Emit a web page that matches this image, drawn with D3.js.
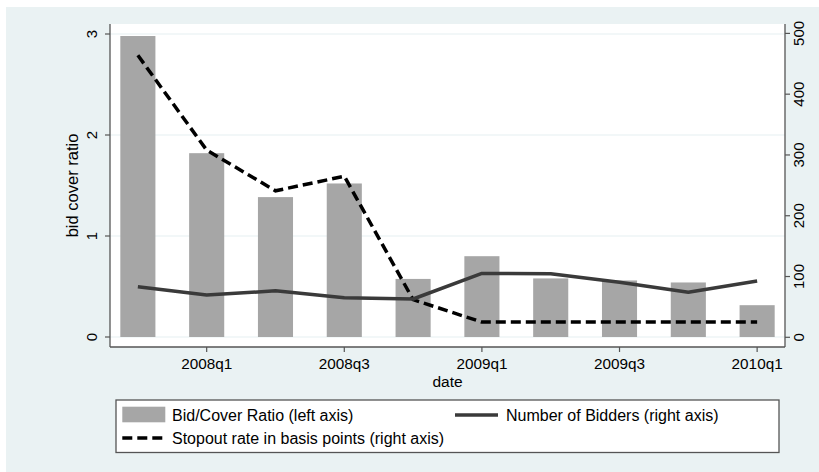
<!DOCTYPE html>
<html>
<head>
<meta charset="utf-8">
<script src="https://cdn.jsdelivr.net/npm/d3@7"></script>
<style>
html,body{margin:0;padding:0;background:#fff;}
svg text{font-family:"Liberation Sans",Arial,Helvetica,sans-serif;fill:#000;}
</style>
</head>
<body>
<svg id="chart" width="819" height="472"></svg>
<script>
const quarters = ["2007q4","2008q1","2008q2","2008q3","2008q4","2009q1","2009q2","2009q3","2009q4","2010q1"];
const bidCover = [2.98, 1.82, 1.385, 1.52, 0.575, 0.80, 0.58, 0.56, 0.54, 0.315];
const bidders = [83, 69.5, 76.5, 65, 63, 105, 104.5, 90.5, 74, 92.5];
const stopout = [464, 308, 241, 265, 62, 25, 25, 25, 25, 25];
const xTickLabels = ["2008q1","2008q3","2009q1","2009q3","2010q1"];
const leftTicks = [0,1,2,3];
const rightTicks = [0,100,200,300,400,500];

const svg = d3.select("#chart");
const W = 819, H = 472;
const plot = {l:110, r:785, t:24, b:347};

svg.append("rect").attr("x",6).attr("y",7).attr("width",W-6).attr("height",H-7).attr("fill","#EAF2F3");
svg.append("rect").attr("x",plot.l).attr("y",plot.t).attr("width",plot.r-plot.l).attr("height",plot.b-plot.t).attr("fill","#fff");

const x = d3.scaleLinear().domain([-0.405, 9.405]).range([plot.l, plot.r]);
const yL = d3.scaleLinear().domain([0,3]).range([337, 34]);
const yR = d3.scaleLinear().domain([0,500]).range([337.3, 33.4]);

// gridlines
svg.append("g").selectAll("line").data(leftTicks).join("line")
  .attr("x1",plot.l).attr("x2",plot.r)
  .attr("y1",d=>yL(d)).attr("y2",d=>yL(d))
  .attr("stroke","#E6EFF1").attr("stroke-width",1.2);

// bars
const bw = x(0.51)-x(0);
svg.append("g").selectAll("rect").data(bidCover).join("rect")
  .attr("x",(d,i)=>x(i)-bw/2).attr("width",bw)
  .attr("y",d=>yL(d)).attr("height",d=>yL(0)-yL(d))
  .attr("fill","#A6A6A6");

// lines
const lineR = d3.line().x((d,i)=>x(i)).y(d=>yR(d));
svg.append("path").datum(stopout).attr("d",lineR)
  .attr("fill","none").attr("stroke","#000").attr("stroke-width",3.5)
  .attr("stroke-dasharray","10,5");
svg.append("path").datum(bidders).attr("d",lineR)
  .attr("fill","none").attr("stroke","#3A3A3A").attr("stroke-width",3.5)
  .attr("stroke-linejoin","round");

// axes
const axisColor = "#555";
svg.append("line").attr("x1",plot.l).attr("x2",plot.l).attr("y1",plot.t).attr("y2",plot.b).attr("stroke",axisColor).attr("stroke-width",1.3);
svg.append("line").attr("x1",plot.r).attr("x2",plot.r).attr("y1",plot.t).attr("y2",plot.b).attr("stroke",axisColor).attr("stroke-width",1.3);
svg.append("line").attr("x1",plot.l).attr("x2",plot.r).attr("y1",plot.b).attr("y2",plot.b).attr("stroke",axisColor).attr("stroke-width",1.3);

// left ticks
const gl = svg.append("g");
leftTicks.forEach(t=>{
  const y = yL(t);
  gl.append("line").attr("x1",plot.l-5).attr("x2",plot.l).attr("y1",y).attr("y2",y).attr("stroke",axisColor).attr("stroke-width",1.2);
  gl.append("text").attr("transform",`translate(97,${y}) rotate(-90)`).attr("text-anchor","middle")
    .attr("font-size",15).text(t);
});
// right ticks
const gr = svg.append("g");
rightTicks.forEach(t=>{
  const y = yR(t);
  gr.append("line").attr("x1",plot.r).attr("x2",plot.r+5).attr("y1",y).attr("y2",y).attr("stroke",axisColor).attr("stroke-width",1.2);
  gr.append("text").attr("transform",`translate(803.5,${y}) rotate(-90)`).attr("text-anchor","middle")
    .attr("font-size",15).text(t);
});
// x ticks
const gx = svg.append("g");
xTickLabels.forEach(lab=>{
  const xi = x(quarters.indexOf(lab));
  gx.append("line").attr("x1",xi).attr("x2",xi).attr("y1",plot.b).attr("y2",plot.b+5).attr("stroke",axisColor).attr("stroke-width",1.2);
  gx.append("text").attr("x",xi).attr("y",369).attr("text-anchor","middle").attr("font-size",15.3).text(lab);
});

// axis titles
svg.append("text").attr("transform",`translate(77.5,${(plot.t+plot.b)/2}) rotate(-90)`).attr("text-anchor","middle").attr("font-size",16.5).text("bid cover ratio");
svg.append("text").attr("x",(plot.l+plot.r)/2).attr("y",387).attr("text-anchor","middle").attr("font-size",15.5).text("date");

// legend
const lg = svg.append("g");
lg.append("rect").attr("x",116).attr("y",400).attr("width",663).attr("height",52.5)
  .attr("fill","#fff").attr("stroke","#555").attr("stroke-width",1.3);
lg.append("rect").attr("x",122.3).attr("y",406.7).attr("width",43).attr("height",15.6).attr("fill","#A6A6A6");
lg.append("text").attr("x",172).attr("y",421).attr("font-size",16).text("Bid/Cover Ratio (left axis)");
lg.append("line").attr("x1",455).attr("x2",498).attr("y1",415).attr("y2",415).attr("stroke","#3A3A3A").attr("stroke-width",3.5);
lg.append("text").attr("x",506).attr("y",421).attr("font-size",16).text("Number of Bidders (right axis)");
lg.append("line").attr("x1",122.3).attr("x2",166).attr("y1",438).attr("y2",438).attr("stroke","#000").attr("stroke-width",3.5).attr("stroke-dasharray","10,5");
lg.append("text").attr("x",172).attr("y",444).attr("font-size",16).text("Stopout rate in basis points (right axis)");
</script>
</body>
</html>
